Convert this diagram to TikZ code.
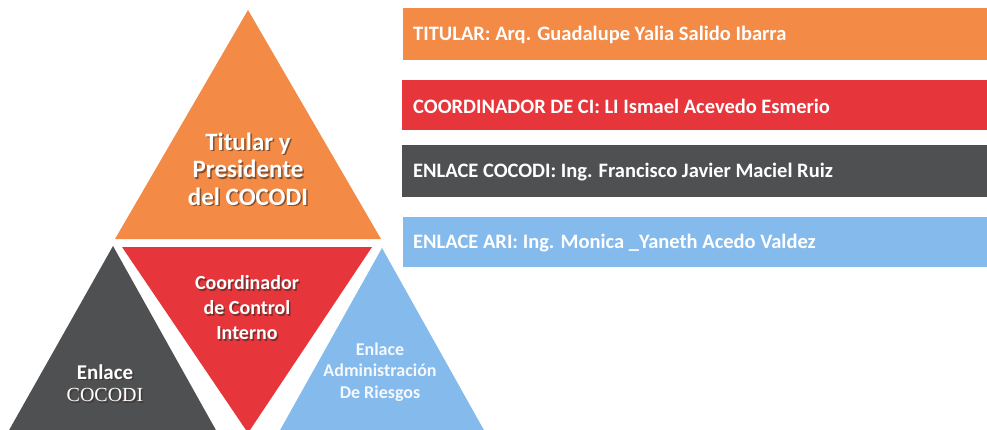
\documentclass[tikz,border=0pt]{standalone}
\usepackage{fontspec}
\setmainfont{Carlito}
\newfontfamily\serifcc{Liberation Serif}
\definecolor{corange}{HTML}{F38A45}
\definecolor{cred}{HTML}{E6353B}
\definecolor{cgray}{HTML}{4E5052}
\definecolor{cblue}{HTML}{85BAEC}
\definecolor{cshadow}{HTML}{3A2A22}
\tikzset{
  bartext/.style={anchor=west, text=white, inner sep=0pt, font=\bfseries\fontsize{20.5}{24}\selectfont},
  tritext/.style={align=center, inner sep=0pt, text=white},
  shadowtext/.style={align=center, inner sep=0pt, text=cshadow, opacity=0.6},
}
\begin{document}
\begin{tikzpicture}[x=1pt,y=-1pt]
\useasboundingbox (0,0) rectangle (987,429);
\begin{scope}
\clip (0,0) rectangle (987,429);
% triangles
\fill[corange] (248,10) -- (381,239) -- (115,239) -- cycle;
\fill[cred] (122,247) -- (372,247) -- (248,433) -- cycle;
\fill[cgray] (113,246) -- (217,432) -- (8,432) -- cycle;
\fill[cblue] (382,248) -- (485,432) -- (279,432) -- cycle;
% bars
\fill[corange] (403,8) rectangle (987,60);
\fill[cred] (402,80) rectangle (987,130);
\fill[cgray] (402,145) rectangle (987,197);
\draw[black!70, line width=0.8pt] (402,145) -- (987,145);
\fill[cblue] (403,217) rectangle (987,267);
\end{scope}
% bar texts
\node[bartext] (bt1) at (413,35) {TITULAR: Arq. Guadalupe Yalia Salido Ibarra};
\node[bartext] (bt2) at (413,106) {COORDINADOR DE CI: LI Ismael Acevedo Esmerio};
\node[bartext] (bt3) at (413,172) {ENLACE COCODI: Ing. Francisco Javier Maciel Ruiz};
\node[bartext] (bt4) at (413,243) {ENLACE ARI: Ing. Monica \_Yaneth Acedo Valdez};
% triangle texts
\node[shadowtext, font=\bfseries\fontsize{25}{27.5}\selectfont] (t1s) at (249.5,170.5) {Titular y\\Presidente\\del COCODI};
\node[tritext, font=\bfseries\fontsize{25}{27.5}\selectfont] (t1) at (248,169) {Titular y\\Presidente\\del COCODI};
\node[shadowtext, font=\bfseries\fontsize{20}{25}\selectfont] (t2s) at (248.5,309.5) {Coordinador\\de Control\\Interno};
\node[tritext, font=\bfseries\fontsize{20}{25}\selectfont] (t2) at (247,308) {Coordinador\\de Control\\Interno};
\node[shadowtext, font=\bfseries\fontsize{21}{22}\selectfont] (t3as) at (106.5,373.5) {Enlace};
\node[tritext, font=\bfseries\fontsize{21}{22}\selectfont] (t3a) at (105,372) {Enlace};
\node[shadowtext, font=\serifcc\fontsize{20}{22}\selectfont] (t3bs) at (106.5,396.5) {COCODI};
\node[tritext, font=\serifcc\fontsize{20}{22}\selectfont] (t3b) at (105,395) {COCODI};
\node[tritext, text=white!92!cblue, font=\bfseries\fontsize{18}{21.5}\selectfont] (t4) at (380,372) {Enlace\\Administración\\De Riesgos};
\end{tikzpicture}
\end{document}
